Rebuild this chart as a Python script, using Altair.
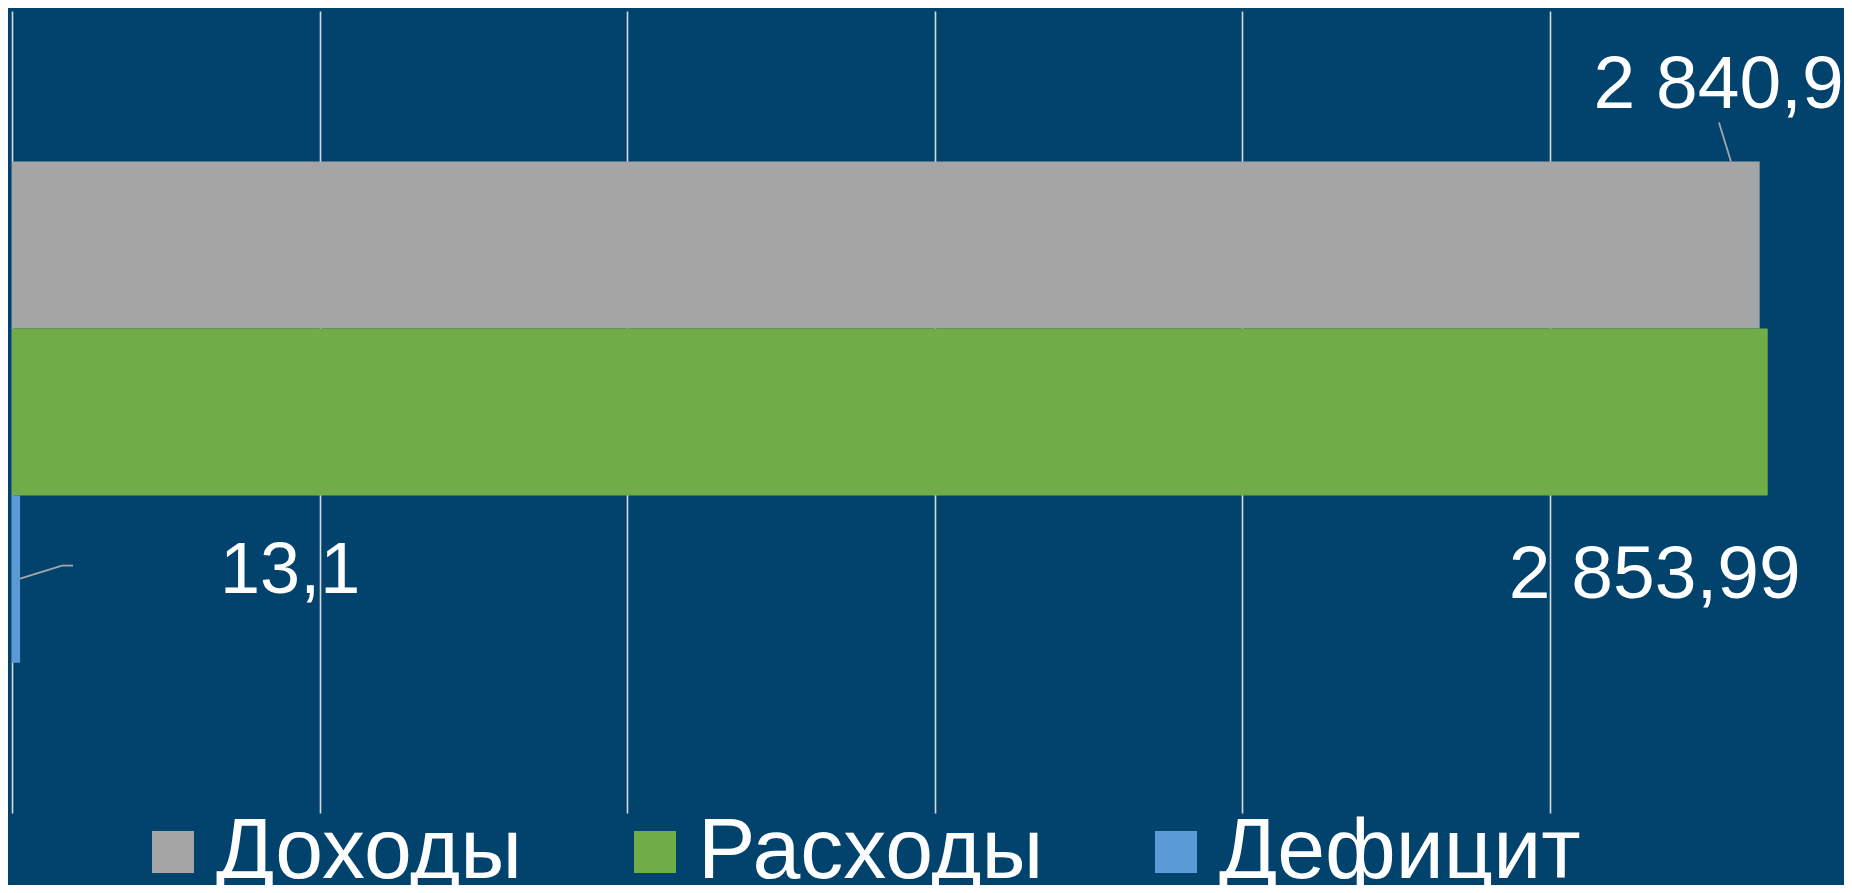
import altair as alt
import pandas as pd

# ---- data ----
series = ["Доходы", "Расходы", "Дефицит"]
values = [2840.9, 2853.99, 13.1]
labels = ["2 840,9", "2 853,99", "13,1"]
colors = ["#A5A5A5", "#70AD47", "#5B9BD5"]
grid_ticks = [0, 500, 1000, 1500, 2000, 2500]
x_max = 2978

df = pd.DataFrame({"series": series, "value": values, "label": labels})

FONT = "Liberation Sans"
W, H = 1832, 802

x_enc = alt.X("value:Q", scale=alt.Scale(domain=[0, x_max], nice=False, zero=True),
              axis=alt.Axis(values=grid_ticks, grid=True, gridColor="#D9D9D9", gridWidth=1.6,
                            labels=False, ticks=False, domain=False, title=None))
y_enc = alt.Y("series:N", sort=series,
              scale=alt.Scale(paddingInner=0, paddingOuter=0.9), axis=None)

base = alt.Chart(df)

bars = base.mark_bar().encode(
    x=x_enc,
    y=y_enc,
    color=alt.Color("series:N",
                    scale=alt.Scale(domain=series, range=colors),
                    legend=alt.Legend(title=None, orient="none", legendX=118, legendY=798,
                                      direction="horizontal", symbolType="square",
                                      symbolSize=1764, symbolStrokeWidth=0,
                                      labelFontSize=86, labelColor="white", labelFont=FONT,
                                      labelOffset=0, columnPadding=89, labelLimit=1000,
                                      symbolOpacity=1)),
)

def text_layer(name, align, dx, dy, size):
    return base.transform_filter(alt.datum.series == name).mark_text(
        align=align, baseline="alphabetic", dx=dx, dy=dy,
        font=FONT, fontSize=size, color="white"
    ).encode(x="value:Q", y=alt.Y("series:N", sort=series), text="label:N")

t1 = text_layer("Доходы", "right", 84, -137, 75)
t2 = text_layer("Расходы", "right", 33, 186, 75)
t3 = text_layer("Дефицит", "left", 200, 13.5, 72)

def leader(name, xo, x2o, yo, y2o):
    return base.transform_filter(alt.datum.series == name).mark_rule(
        color="#A6A6A6", strokeWidth=1.8,
        xOffset=xo, x2Offset=x2o, yOffset=yo, y2Offset=y2o
    ).encode(x="value:Q", x2="value", y=alt.Y("series:N", sort=series), y2="series")

l1 = leader("Доходы", -28.7, -40.7, -83.5, -122.5)
l2 = leader("Дефицит", 0, 42, -0.5, -13.5)
l3 = leader("Дефицит", 42, 53, -13.5, -13.5)

chart = alt.layer(bars, l1, l2, l3, t1, t2, t3).properties(
    width=W, height=H,
    autosize=alt.AutoSizeParams(type="none"),
    padding={"left": 4, "top": 3, "right": 0, "bottom": 72},
    background="#02436E",
).configure_view(stroke=None)

chart.save("out.html", embed_options={"renderer": "svg", "actions": False})
